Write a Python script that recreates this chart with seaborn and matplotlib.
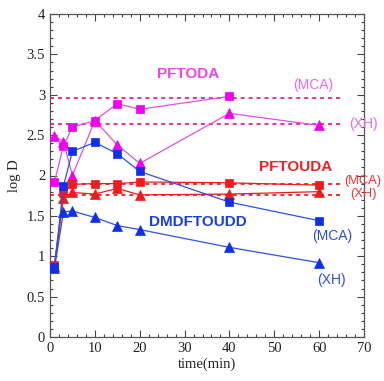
import matplotlib
matplotlib.use("Agg")
import matplotlib.pyplot as plt
import seaborn as sns
import numpy as np
import pandas as pd
from matplotlib.ticker import MultipleLocator, FuncFormatter

# ---- data ----
times = [1, 3, 5, 10, 15, 20, 40, 60]
times_pftoda_mca = [1, 3, 5, 10, 15, 20, 40]
pftoda_mca = [1.92, 2.37, 2.60, 2.68, 2.89, 2.82, 2.98]
pftoda_xh = [2.49, 2.42, 2.00, 2.68, 2.38, 2.15, 2.77, 2.62]
pftouda_mca = [0.89, 1.78, 1.89, 1.90, 1.90, 1.92, 1.91, 1.88]
pftouda_xh = [0.88, 1.72, 1.79, 1.77, 1.84, 1.76, 1.77, 1.80]
dmd_mca = [0.87, 1.87, 2.30, 2.41, 2.27, 2.05, 1.67, 1.44]
dmd_xh = [0.85, 1.55, 1.56, 1.48, 1.38, 1.33, 1.11, 0.92]
avg_pftoda = {"MCA": 2.96, "XH": 2.64}
avg_pftouda = {"MCA": 1.90, "XH": 1.76}

MAG = "#f000f0"
MAG_LINE = "#e050e0"
RED = "#ee1c1c"
BLUE = "#1030e8"
BLUE_LINE = "#3050e0"
DASH_MAG = "#e8208a"
DASH_RED = "#ee2020"

sns.set_style("ticks")
plt.rcParams['font.family'] = ['Liberation Serif', 'DejaVu Serif']

fig = plt.figure(figsize=(3.84, 3.81), dpi=100)
ax = fig.add_axes([50/384, 1-337/381, 314/384, 323/381])

def series(x, y, marker, mcolor, lcolor, ms):
    df = pd.DataFrame({"t": x, "v": y})
    sns.lineplot(data=df, x="t", y="v", ax=ax, color=lcolor, lw=0.9,
                 marker=marker, markersize=ms, markerfacecolor=mcolor,
                 markeredgecolor=mcolor, markeredgewidth=0.5, zorder=3)

# dashed average lines
for v in avg_pftoda.values():
    ax.hlines(v, 0, 64.6, colors=DASH_MAG, linestyles=(0, (2.2, 2.2)), lw=1.3, zorder=2)
for v in avg_pftouda.values():
    ax.hlines(v, 0, 64.6, colors=DASH_RED, linestyles=(0, (2.2, 2.2)), lw=1.3, zorder=2)

series(times_pftoda_mca, pftoda_mca, "s", MAG, MAG_LINE, 6.2)
series(times, pftoda_xh, "^", MAG, MAG_LINE, 7)
series(times, pftouda_mca, "s", RED, RED, 6.2)
series(times, pftouda_xh, "^", RED, RED, 7)
series(times, dmd_mca, "s", BLUE, BLUE_LINE, 6.2)
series(times, dmd_xh, "^", BLUE, BLUE_LINE, 7)

ax.set_xlim(0, 70)
ax.set_ylim(0, 4)
ax.xaxis.set_major_locator(MultipleLocator(10))
ax.xaxis.set_minor_locator(MultipleLocator(2))
ax.yaxis.set_major_locator(MultipleLocator(0.5))
ax.yaxis.set_minor_locator(MultipleLocator(0.1))
ax.yaxis.set_major_formatter(FuncFormatter(lambda v, p: f"{v:g}"))
ax.tick_params(which="both", direction="in", top=True, right=True, colors="#444444",
               labelcolor="#222222", width=0.8)
ax.tick_params(which="major", length=5, labelsize=10.5)
ax.tick_params(which="minor", length=2.5)
for s in ax.spines.values():
    s.set_color("#555555")
    s.set_linewidth(0.9)
    s.set_visible(True)

ax.set_xlabel("time(min)", fontsize=10.5, color="#222222", labelpad=2)
ax.set_ylabel("log D", fontsize=10.5, color="#222222", labelpad=4)

sans = ['Liberation Sans', 'DejaVu Sans']
def lab(x, y, s, c, fs=10, weight="normal", ha="center"):
    ax.text(x, y, s, color=c, fontsize=fs, family=sans, ha=ha, va="center",
            weight=weight, transform=ax.transData, clip_on=False)

lab(30.9, 3.26, "PFTODA", "#ee44ee", 11, "bold")
lab(58.6, 3.12, "(MCA)", "#ee66ee")
lab(69.8, 2.64, "(XH)", "#ee66ee")
lab(54.7, 2.10, "PFTOUDA", "#ee2222", 11, "bold")
lab(69.8, 1.935, "(MCA)", "#ee3333", 9.3)
lab(69.8, 1.77, "(XH)", "#ee3333", 9.3)
lab(33.0, 1.42, "DMDFTOUDD", "#1a3ee0", 11, "bold")
lab(62.8, 1.25, "(MCA)", "#2a4ed8")
lab(62.8, 0.71, "(XH)", "#2a4ed8")

fig.savefig("out.png", dpi=100)
